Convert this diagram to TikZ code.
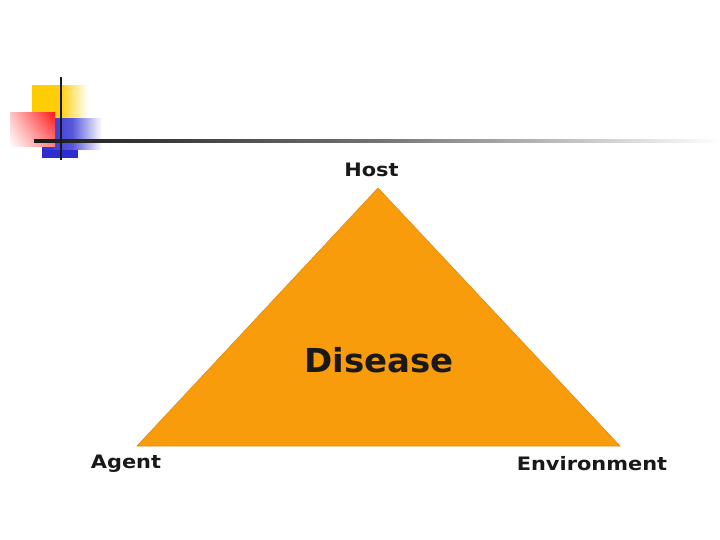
\documentclass[tikz,border=0pt]{standalone}
\usepackage{fontspec}
\usepackage{graphicx}
\setmainfont{DejaVu Sans}
\usetikzlibrary{shadings}
\definecolor{tri}{HTML}{F99C0C}
\definecolor{triedge}{HTML}{E08A10}
\definecolor{decoyellow}{HTML}{FFCC00}
\definecolor{decoblue}{HTML}{2E2ED0}
\definecolor{decored}{HTML}{FF1A1A}
\newcommand{\widelbl}[1]{\scalebox{1.13}[1]{#1}}
\begin{document}
\begin{tikzpicture}[x=1pt,y=-1pt,
  lbl/.style={font=\bfseries\fontsize{18.5}{20}\selectfont, inner sep=0pt, text=black!90}]
\useasboundingbox (0,0) rectangle (720,540);
% decoration
\shade[left color=decoyellow, right color=white, middle color=decoyellow!95] (32,86) rectangle (88,118);
\shade[left color=decoblue, right color=white, middle color=decoblue!80] (42,119) rectangle (102,150);
\fill[decoblue] (42,150) rectangle (78,158);
\shade[upper right=decored, lower left=white, upper left=decored!25, lower right=decored!55] (10,113) rectangle (55,147);
\shade[left color=black!90, right color=white, middle color=black!55] (34,139.8) rectangle (720,142.2);
\fill[black!90] (59.8,77) rectangle (62.2,160);
% triangle
\coordinate (H) at (378,188);
\coordinate (A) at (137,446);
\coordinate (E) at (620,446);
\filldraw[fill=tri, draw=triedge, line width=0.6pt] (H) -- (A) -- (E) -- cycle;
\node[lbl] (host) at (371.5,170) {\widelbl{Host}};
\node[lbl] (agent) at (126,463.5) {\widelbl{Agent}};
\node[lbl] (env) at (592,463.5) {\widelbl{Environment}};
\node[inner sep=0pt, text=black!90, font=\bfseries\fontsize{33}{36}\selectfont] (dis) at (379,360) {\scalebox{1.03}[1]{Disease}};
\end{tikzpicture}
\end{document}
